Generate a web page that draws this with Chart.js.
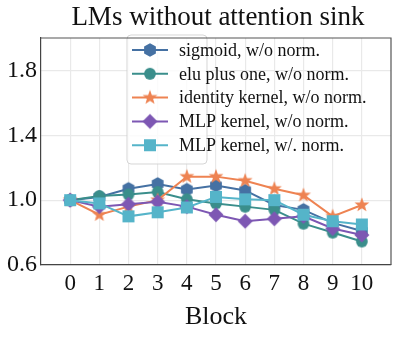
<!DOCTYPE html>
<html>
<head>
<meta charset="utf-8">
<script src="https://cdn.jsdelivr.net/npm/chart.js@4/dist/chart.umd.min.js"></script>
<style>
  html, body { margin: 0; padding: 0; background: #fff; }
  #wrap { width: 400px; height: 337px; }
</style>
</head>
<body>
<div id="wrap"><canvas id="c" width="400" height="337"></canvas></div>
<script>
// Relative output magnitude per transformer block
const blocks = [0, 1, 2, 3, 4, 5, 6, 7, 8, 9, 10];
const sigmoidNoNorm  = [1.00, 1.02, 1.07, 1.10, 1.065, 1.09, 1.06, 0.97, 0.94, 0.86, 0.81];
const eluPlusOne     = [1.00, 1.025, 1.035, 1.05, 1.005, 0.98, 0.96, 0.94, 0.855, 0.80, 0.745];
const identityKernel = [1.00, 0.91, 0.96, 1.00, 1.145, 1.145, 1.12, 1.07, 1.03, 0.90, 0.97];
const mlpNoNorm      = [1.00, 0.96, 0.975, 0.99, 0.96, 0.91, 0.87, 0.885, 0.90, 0.825, 0.785];
const mlpWithNorm    = [1.00, 0.98, 0.90, 0.925, 0.955, 1.02, 1.005, 1.00, 0.91, 0.87, 0.85];
const yTickValues = [0.6, 1.0, 1.4, 1.8];
const seriesNames = [
  'sigmoid, w/o norm.',
  'elu plus one, w/o norm.',
  'identity kernel, w/o norm.',
  'MLP kernel, w/o norm.',
  'MLP kernel, w/. norm.'
];
const titleText = 'LMs without attention sink';
const xTitle = 'Block';

const SERIF = '"Liberation Serif", "DejaVu Serif", serif';
const colors = ['#4571a3', '#3a8e8b', '#ee8352', '#7d57b3', '#55b4c9'];

// Marker sprites
function sprite(size, drawFn, color) {
  const c = document.createElement('canvas');
  c.width = size; c.height = size;
  const g = c.getContext('2d');
  g.fillStyle = color; g.strokeStyle = color; g.lineWidth = 1;
  g.beginPath();
  drawFn(g, size / 2, size / 2);
  g.closePath();
  g.fill();
  return c;
}
function poly(g, cx, cy, n, r, rot) {
  for (let i = 0; i < n; i++) {
    const a = rot + i * 2 * Math.PI / n;
    const px = cx + r * Math.cos(a), py = cy + r * Math.sin(a);
    if (i === 0) g.moveTo(px, py); else g.lineTo(px, py);
  }
}
const markerMakers = [
  (col) => sprite(16, (g, cx, cy) => poly(g, cx, cy, 6, 6.8, -Math.PI / 2), col),
  (col) => sprite(16, (g, cx, cy) => g.arc(cx, cy, 5.9, 0, Math.PI * 2), col),
  (col) => sprite(18, (g, cx, cy) => {
    for (let i = 0; i < 10; i++) {
      const r = i % 2 === 0 ? 7.8 : 3.2;
      const a = -Math.PI / 2 + i * Math.PI / 5;
      const px = cx + r * Math.cos(a), py = cy + r * Math.sin(a);
      if (i === 0) g.moveTo(px, py); else g.lineTo(px, py);
    }
  }, col),
  (col) => sprite(18, (g, cx, cy) => poly(g, cx, cy, 4, 7.5, -Math.PI / 2), col),
  (col) => sprite(16, (g, cx, cy) => g.rect(cx - 6, cy - 6, 12, 12), col)
];
const markers = colors.map((c, i) => markerMakers[i](c));

const seriesValues = [sigmoidNoNorm, eluPlusOne, identityKernel, mlpNoNorm, mlpWithNorm];
const datasets = seriesValues.map((vals, i) => ({
  label: seriesNames[i],
  data: blocks.map((b, j) => ({ x: b, y: vals[j] })),
  borderColor: colors[i],
  backgroundColor: colors[i],
  borderWidth: 2,
  pointStyle: markers[i],
  order: seriesValues.length - i,
  tension: 0
}));

// Title and in-axes legend
const decorations = {
  id: 'decorations',
  afterDatasetsDraw(chart) {
    const ctx = chart.ctx;
    const area = chart.chartArea;
    ctx.save();
    // title
    ctx.fillStyle = '#111';
    ctx.font = '27px ' + SERIF;
    ctx.textAlign = 'center';
    ctx.textBaseline = 'alphabetic';
    ctx.fillText(titleText, (area.left + area.right) / 2 + 2, 25);

    // legend frame
    const fx = 127, fy = 35, fw = 80, fh = 129, r = 4;
    ctx.beginPath();
    ctx.moveTo(fx + r, fy);
    ctx.arcTo(fx + fw, fy, fx + fw, fy + fh, r);
    ctx.arcTo(fx + fw, fy + fh, fx, fy + fh, r);
    ctx.arcTo(fx, fy + fh, fx, fy, r);
    ctx.arcTo(fx, fy, fx + fw, fy, r);
    ctx.closePath();
    ctx.fillStyle = 'rgba(255,255,255,0.8)';
    ctx.fill();
    ctx.strokeStyle = 'rgba(204,204,204,0.8)';
    ctx.lineWidth = 1;
    ctx.stroke();

    // legend entries
    ctx.font = '18px ' + SERIF;
    ctx.textAlign = 'left';
    ctx.textBaseline = 'middle';
    chart.data.datasets.forEach((ds, i) => {
      const cy = 50 + i * 23.8;
      ctx.strokeStyle = ds.borderColor;
      ctx.lineWidth = 2;
      ctx.beginPath();
      ctx.moveTo(132, cy);
      ctx.lineTo(168, cy);
      ctx.stroke();
      const m = ds.pointStyle;
      ctx.drawImage(m, 150 - m.width / 2, cy - m.height / 2);
      ctx.fillStyle = '#111';
      ctx.fillText(ds.label, 179, cy + 1);
    });
    ctx.restore();
  }
};

new Chart(document.getElementById('c'), {
  type: 'line',
  data: { datasets },
  options: {
    responsive: false,
    animation: false,
    devicePixelRatio: 1,
    layout: { padding: { top: 38, right: 9, left: 0, bottom: 0 } },
    plugins: { legend: { display: false }, tooltip: { enabled: false }, title: { display: false } },
    scales: {
      x: {
        type: 'linear',
        min: -1, max: 11,
        afterBuildTicks: (s) => { s.ticks = blocks.map(v => ({ value: v })); },
        afterFit: (s) => { s.height = 72; },
        grid: { color: '#e9e9e9', lineWidth: 1.2, tickLength: 0, drawTicks: false },
        border: { color: '#444', width: 1.2 },
        ticks: { font: { family: SERIF, size: 23 }, color: '#111', padding: 5, maxRotation: 0, autoSkip: false },
        title: { display: true, text: xTitle, font: { family: SERIF, size: 26 }, color: '#111', padding: { top: 0, bottom: 4 } }
      },
      y: {
        type: 'linear',
        min: 0.6, max: 2.0,
        afterBuildTicks: (s) => { s.ticks = yTickValues.map(v => ({ value: v })); },
        afterFit: (s) => { s.width = 41; },
        grid: { color: '#e9e9e9', lineWidth: 1.2, tickLength: 0, drawTicks: false },
        border: { color: '#444', width: 1.2 },
        ticks: { font: { family: SERIF, size: 24 }, color: '#111', padding: 4, callback: (v) => v.toFixed(1) }
      }
    }
  },
  plugins: [decorations, {
    id: 'boxFrame',
    afterDraw(chart) {
      const { ctx, chartArea: a } = chart;
      ctx.save();
      ctx.strokeStyle = '#555';
      ctx.lineWidth = 1.2;
      ctx.beginPath();
      ctx.moveTo(a.left, a.top); ctx.lineTo(a.right, a.top); ctx.lineTo(a.right, a.bottom);
      ctx.stroke();
      ctx.restore();
    }
  }]
});
</script>
</body>
</html>
